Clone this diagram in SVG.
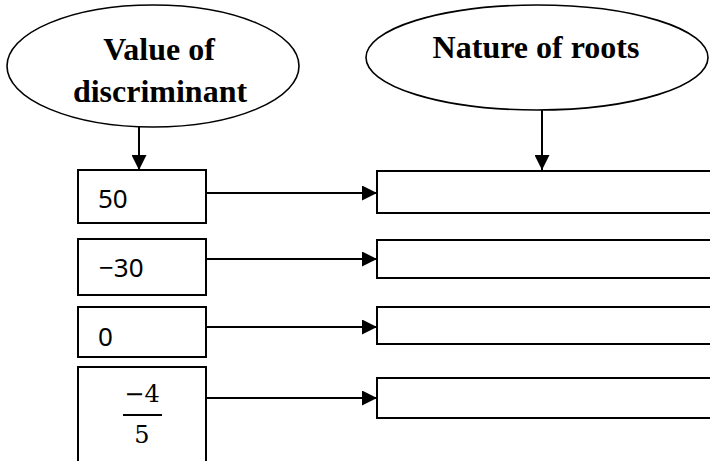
<svg xmlns="http://www.w3.org/2000/svg" width="710" height="461" viewBox="0 0 710 461">
<defs>
<style>
.shape{fill:#fff;stroke:#000;stroke-width:1.6}
.box{fill:#fff;stroke:#000;stroke-width:2}
.conn{stroke:#000;stroke-width:2;fill:none;marker-end:url(#ah)}
.title{font-family:"Liberation Serif","Times New Roman",serif;font-weight:bold;font-size:32px;fill:#000;text-anchor:middle}
.val{font-family:"Noto Sans","Open Sans",sans-serif;font-size:26px;fill:#000}
.math{font-family:"DejaVu Serif","Liberation Serif",serif;font-size:24px;fill:#000;text-anchor:middle}
</style>
<marker id="ah" viewBox="0 0 10 10" refX="10" refY="5" markerUnits="userSpaceOnUse" markerWidth="15" markerHeight="15" orient="auto">
<path d="M0,0 L10,5 L0,10 Z" fill="#000"/>
</marker>
</defs>
<rect width="710" height="461" fill="#fff"/>
<g id="ellipse-value">
<ellipse class="shape" cx="153" cy="66" rx="146" ry="61"/>
<text class="title" x="159" y="60">Value of</text>
<text class="title" x="160" y="102">discriminant</text>
</g>
<g id="ellipse-nature">
<ellipse class="shape" cx="537" cy="57.5" rx="171" ry="52.5"/>
<text class="title" x="536" y="58">Nature of roots</text>
</g>
<g id="val-50">
<rect class="box" x="78" y="170" width="128" height="53"/>
<text class="val" x="98" y="208">50</text>
</g>
<g id="val-neg30">
<rect class="box" x="78" y="239" width="128" height="56"/>
<text class="val" x="99" y="277">−30</text>
</g>
<g id="val-0">
<rect class="box" x="78" y="307" width="128" height="50"/>
<text class="val" x="98" y="346">0</text>
</g>
<g id="val-frac">
<rect class="box" x="78" y="367" width="128" height="110"/>
<text class="math" x="142" y="402">−4</text>
<line x1="123" y1="415" x2="162" y2="415" stroke="#000" stroke-width="2"/>
<text class="math" x="142" y="443">5</text>
</g>
<g id="root-1"><rect class="box" x="377" y="171" width="345" height="42"/></g>
<g id="root-2"><rect class="box" x="377" y="240" width="345" height="38"/></g>
<g id="root-3"><rect class="box" x="377" y="307" width="345" height="37"/></g>
<g id="root-4"><rect class="box" x="377" y="378" width="345" height="40"/></g>
<g id="connectors">
<line class="conn" x1="139" y1="127" x2="139" y2="170"/>
<line class="conn" x1="542" y1="110" x2="542" y2="170"/>
<line class="conn" x1="206" y1="193" x2="377" y2="193"/>
<line class="conn" x1="206" y1="259" x2="377" y2="259"/>
<line class="conn" x1="206" y1="327" x2="377" y2="327"/>
<line class="conn" x1="206" y1="398" x2="377" y2="398"/>
</g>
</svg>
